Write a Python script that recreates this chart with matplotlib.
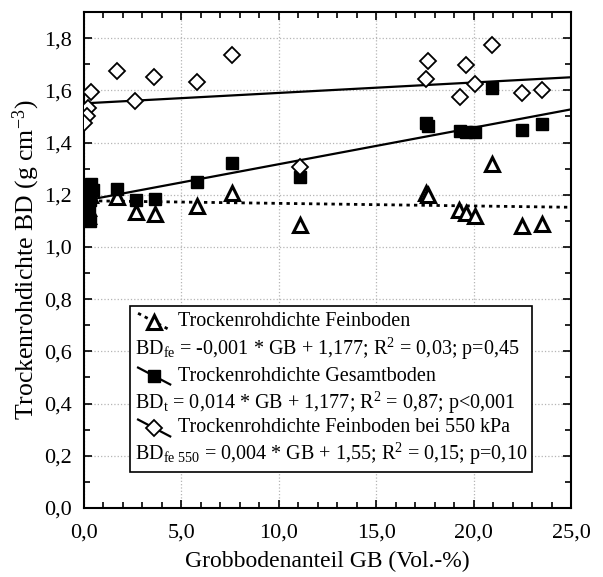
import matplotlib
matplotlib.use('Agg')
import matplotlib.pyplot as plt
import numpy as np
from matplotlib.patches import Rectangle

plt.rcParams['font.family'] = ['Liberation Serif', 'DejaVu Serif']
plt.rcParams['mathtext.fontset'] = 'custom'
plt.rcParams['mathtext.rm'] = 'Liberation Serif'
plt.rcParams['mathtext.it'] = 'Liberation Serif:italic'

# Trockenrohdichte Feinboden (triangles)
gb_fe = [0.1, 0.2, 0.3, 0.2, 1.71, 2.67, 3.62, 5.78, 7.59, 11.08,
         17.55, 17.65, 19.25, 19.62, 20.05, 20.94, 22.48, 23.52]
bd_fe = [1.18, 1.15, 1.20, 1.12, 1.19, 1.134, 1.126, 1.156, 1.207, 1.084,
         1.205, 1.198, 1.140, 1.129, 1.117, 1.318, 1.079, 1.088]

# Trockenrohdichte Gesamtboden (squares)
gb_t = [0.35, 0.25, 0.45, 0.2, 0.3, 0.2, 0.25, 0.2, 0.3, 1.71, 2.65, 3.62, 5.78, 7.61, 11.08,
        17.55, 17.65, 19.28, 19.62, 20.08, 20.94, 22.48, 23.52]
bd_t = [1.24, 1.23, 1.22, 1.20, 1.18, 1.16, 1.14, 1.12, 1.10, 1.222, 1.180, 1.185, 1.248, 1.323, 1.267,
        1.475, 1.465, 1.444, 1.440, 1.440, 1.609, 1.449, 1.472]

# Trockenrohdichte Feinboden bei 550 kPa (diamonds)
gb_550 = [0.35, 0.2, 0.15, 0.0, 1.71, 2.63, 3.61, 5.78, 7.59, 11.08,
          17.66, 17.54, 19.62, 19.28, 20.05, 20.94, 22.48, 23.52]
bd_550 = [1.592, 1.532, 1.503, 1.475, 1.675, 1.560, 1.652, 1.632, 1.737, 1.308,
          1.714, 1.644, 1.698, 1.576, 1.624, 1.774, 1.590, 1.601]

# regression coefficients (slope, intercept) from the legend
fit_fe = (-0.001, 1.177)
fit_t = (0.014, 1.177)
fit_550 = (0.004, 1.55)

legend_titles = ['Trockenrohdichte Feinboden',
                 'Trockenrohdichte Gesamtboden',
                 'Trockenrohdichte Feinboden bei 550 kPa']
legend_eqs = [r'BD$_{\mathrm{fe}}$ = -0,001 * GB + 1,177; R$^2$ = 0,03; p=0,45',
              r'BD$_{\mathrm{t}}$ = 0,014 * GB + 1,177; R$^2$ = 0,87; p<0,001',
              r'BD$_{\mathrm{fe\ 550}}$ = 0,004 * GB + 1,55; R$^2$ = 0,15; p=0,10']

fig = plt.figure(figsize=(6.03, 5.77), dpi=100)
ax = fig.add_axes([84 / 603, 1 - 508 / 577, 487 / 603, 496 / 577])

xx = np.array([0, 25])
ax.plot(xx, fit_fe[0] * xx + fit_fe[1], color='black', lw=2, ls=(0, (1.2, 1.5)), zorder=3)
ax.plot(xx, fit_t[0] * xx + fit_t[1], color='black', lw=1.6, zorder=3)
ax.plot(xx, fit_550[0] * xx + fit_550[1], color='black', lw=1.6, zorder=3)

mk_fe = dict(marker='^', ms=10, mfc='white', mec='black', mew=2.2)
mk_t = dict(marker='s', ms=8, mfc='black', mec='black', mew=1)
mk_550 = dict(marker='D', ms=8, mfc='white', mec='black', mew=1.3)

ax.plot(gb_fe, bd_fe, ls='none', zorder=4, **mk_fe)
ax.plot(gb_t, bd_t, ls='none', zorder=5, **mk_t)
ax.plot(gb_550, bd_550, ls='none', zorder=6, **mk_550)

ax.set_xlim(0, 25)
ax.set_ylim(0, 1.9)
ax.set_xticks(np.arange(0, 25.1, 5))
ax.set_xticks(np.arange(0, 25.1, 1), minor=True)
ax.set_yticks(np.arange(0, 1.81, 0.2))
ax.set_yticks(np.arange(0, 1.91, 0.1), minor=True)
ax.set_xticklabels([f'{v:.1f}'.replace('.', ',') for v in np.arange(0, 25.1, 5)])
ax.set_yticklabels([f'{v:.1f}'.replace('.', ',') for v in np.arange(0, 1.81, 0.2)])
ax.tick_params(which='both', direction='in', top=True, right=True, labelsize=16, width=1.2)
ax.tick_params(which='major', length=6)
ax.tick_params(which='minor', length=4)
ax.tick_params(axis='x', which='major', pad=11)
ax.tick_params(axis='y', which='major', pad=9)
ax.grid(True, which='major', color='#b5b5b5', ls=':', lw=0.9)
ax.set_axisbelow(True)
for s in ax.spines.values():
    s.set_linewidth(1.5)

ax.set_xlabel('Grobbodenanteil GB (Vol.-%)', fontsize=17, labelpad=6)
ax.set_ylabel(r'Trockenrohdichte BD (g cm$^{-3}$)', fontsize=18.5, labelpad=1)

# legend box drawn by hand (Statistica style)
ax.add_patch(Rectangle((0.0945, 0.0726), 0.8255, 0.3344, transform=ax.transAxes,
                       facecolor='white', edgecolor='black', lw=1.2, zorder=10))
row_y = [0.3756, 0.3206, 0.2661, 0.2117, 0.1613, 0.1089]
styles = [(dict(ls=(0, (1.2, 1.5)), lw=2), mk_fe), (dict(ls='-', lw=1.6), mk_t), (dict(ls='-', lw=1.6), mk_550)]
for i in range(3):
    yc = row_y[2 * i]
    ax.plot([0.111, 0.177], [yc + 0.017, yc - 0.017], color='black', transform=ax.transAxes,
            zorder=11, clip_on=False, **styles[i][0])
    ax.plot([0.144], [yc], transform=ax.transAxes, zorder=12, clip_on=False, ls='none', **styles[i][1])
    ax.text(0.193, yc, legend_titles[i], transform=ax.transAxes, fontsize=14.5,
            va='center', ha='left', zorder=12)
    ax.text(0.1047, row_y[2 * i + 1], legend_eqs[i], transform=ax.transAxes, fontsize=14.5,
            va='center', ha='left', zorder=12)

fig.savefig('out.png', dpi=100)
